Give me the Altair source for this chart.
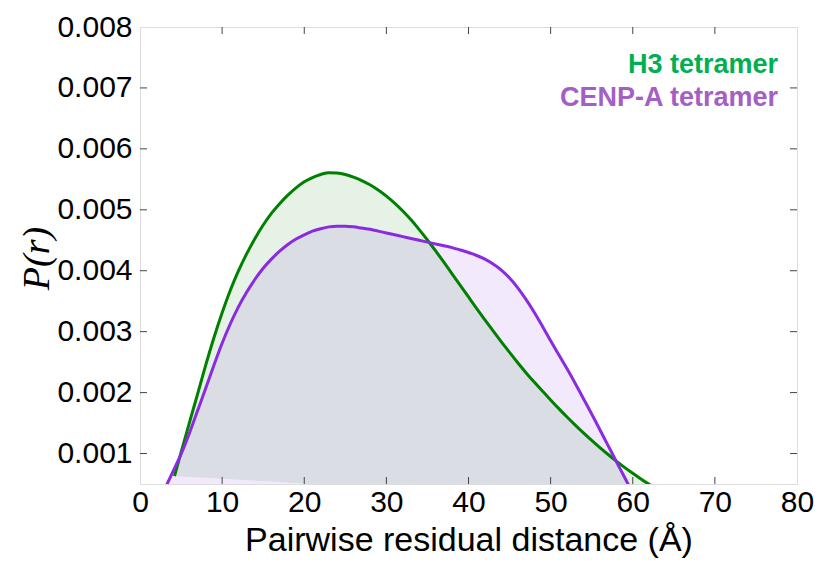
import altair as alt
import numpy as np
import pandas as pd

# ---- data ----
h3_x = [4.2, 5, 6, 7, 8, 9, 10, 11, 12, 13, 14, 15, 16, 17, 18, 19, 20, 21, 22, 23, 24,
        25, 26, 27, 28, 29, 30, 31, 32, 33, 34, 35, 36, 37, 38, 39, 40, 41, 42, 43, 44,
        45, 46, 47, 48, 49, 50, 51, 52, 53, 54, 55, 56, 57, 58, 59, 60, 61, 62, 63, 64,
        65, 66.5]
h3_y = [0.00063, 0.00102, 0.00150, 0.00197, 0.00245, 0.00290, 0.00331, 0.00368, 0.00400,
        0.00428, 0.00453, 0.00475, 0.00494, 0.00510, 0.00524, 0.00536, 0.00546, 0.00553,
        0.00558, 0.00561, 0.005605, 0.00558, 0.005535, 0.00548, 0.00541, 0.005325,
        0.005225, 0.00511, 0.00498, 0.004835, 0.004675, 0.004505, 0.004325, 0.00414,
        0.00395, 0.00376, 0.00357, 0.00338, 0.003195, 0.003012, 0.002833, 0.002659,
        0.00249, 0.002327, 0.002172, 0.002026, 0.00188, 0.001737, 0.001599, 0.001466,
        0.001338, 0.001215, 0.001097, 0.000984, 0.000876, 0.000773, 0.000675, 0.000582,
        0.000494, 0.000411, 0.000333, 0.00026, 0.000155]

cenp_x = [2.5, 3.3, 4, 5, 6, 7, 8, 9, 10, 11, 12, 13, 14, 15, 16, 17, 18, 19, 20, 21, 22,
          23, 24, 25, 26, 27, 28, 29, 30, 31, 32, 33, 34, 35, 36, 37, 38, 39, 40, 41, 42,
          43, 44, 45, 46, 47, 48, 49, 50, 51, 52, 53, 54, 55, 56, 57, 58, 59, 60, 61]
cenp_y = [0.00027, 0.00050, 0.00070, 0.00099, 0.00133, 0.00170, 0.00207, 0.00245, 0.00281,
          0.00313, 0.00341, 0.00365, 0.00386, 0.00404, 0.00419, 0.00432, 0.00443, 0.00452,
          0.00459, 0.00465, 0.00469, 0.00472, 0.00473, 0.00473, 0.00472, 0.00470, 0.00468,
          0.00465, 0.00462, 0.00459, 0.00456, 0.00453, 0.00450, 0.00447, 0.00444, 0.00441,
          0.00438, 0.00434, 0.00430, 0.00425, 0.00419, 0.00411, 0.00401, 0.00388, 0.00372,
          0.00353, 0.00332, 0.00309, 0.00285, 0.00262, 0.00239, 0.00215, 0.00190, 0.00165,
          0.00139, 0.00113, 0.00087, 0.00061, 0.00035, 0.00009]

x_ticks = [0, 10, 20, 30, 40, 50, 60, 70, 80]
y_ticks = [0.001, 0.002, 0.003, 0.004, 0.005, 0.006, 0.007, 0.008]
labels = ["H3 tetramer", "CENP-A tetramer"]


def closed(xs, ys):
    # polygon closed by the straight segment joining first and last point
    xs = np.asarray(xs, float)
    ys = np.asarray(ys, float)
    base = np.interp(xs, [xs[0], xs[-1]], [ys[0], ys[-1]])
    return pd.DataFrame({"x": xs, "y": ys, "base": base})


h3 = closed(h3_x, h3_y)
cenp = closed(cenp_x, cenp_y)

W, H = 657, 457
GREEN, PURPLE = "#008000", "#8a2be2"

xscale = alt.Scale(domain=[0, 80], nice=False, zero=False)
yscale = alt.Scale(domain=[0.0005, 0.008], nice=False, zero=False)

xaxis = alt.Axis(values=x_ticks, title="Pairwise residual distance (Å)", grid=False,
                 domain=False, ticks=False, tickSize=0, labelFlush=False,
                 labelFontSize=30, labelPadding=3, labelFont="Liberation Sans",
                 labelColor="black", titleFont="Liberation Sans", titleFontSize=34,
                 titleFontWeight="normal", titleColor="black",
                 titleBaseline="middle", titleY=56)
yaxis = alt.Axis(values=y_ticks, format=".3f", title="P(r)", grid=False,
                 domain=False, ticks=False, tickSize=0, labelFlush=False,
                 labelFontSize=30, labelPadding=8, labelFont="Liberation Sans",
                 labelColor="black", titleFont="Liberation Serif", titleFontSize=38,
                 titleFontStyle="italic", titleFontWeight="normal", titleColor="black",
                 titleAngle=270, titleBaseline="middle", titleAlign="center",
                 titleX=-103, titleY=231)


def area(df, color):
    return alt.Chart(df).mark_area(color=color, opacity=0.1, clip=True,
                                   interpolate="monotone").encode(
        x=alt.X("x:Q", scale=xscale, axis=xaxis),
        y=alt.Y("y:Q", scale=yscale, axis=yaxis),
        y2="base:Q")


def line(df, color):
    return alt.Chart(df).mark_line(color=color, strokeWidth=3, clip=True,
                                   interpolate="monotone").encode(
        x=alt.X("x:Q", scale=xscale), y=alt.Y("y:Q", scale=yscale))


xt = pd.DataFrame({"t": x_ticks[1:-1]})
yt = pd.DataFrame({"t": y_ticks[:-1]})
tick_style = dict(color="#444444", strokeWidth=1)
ticks = [
    alt.Chart(xt).mark_rule(**tick_style).encode(
        x=alt.X("t:Q", scale=xscale), y=alt.value(H), y2=alt.value(H - 7)),
    alt.Chart(xt).mark_rule(**tick_style).encode(
        x=alt.X("t:Q", scale=xscale), y=alt.value(0), y2=alt.value(7)),
    alt.Chart(yt).mark_rule(**tick_style).encode(
        y=alt.Y("t:Q", scale=yscale), x=alt.value(0), x2=alt.value(7)),
    alt.Chart(yt).mark_rule(**tick_style).encode(
        y=alt.Y("t:Q", scale=yscale), x=alt.value(W), x2=alt.value(W - 7)),
]

lab = pd.DataFrame({"label": labels})
text_h3 = alt.Chart(lab.iloc[[0]]).mark_text(
    align="right", baseline="alphabetic", font="Liberation Sans", fontSize=27,
    fontWeight="bold", color="#00b050").encode(
    text="label:N", x=alt.value(638), y=alt.value(46))
text_cenp = alt.Chart(lab.iloc[[1]]).mark_text(
    align="right", baseline="alphabetic", font="Liberation Sans", fontSize=27,
    fontWeight="bold", color="#a35fc6").encode(
    text="label:N", x=alt.value(638), y=alt.value(79))

chart = alt.layer(
    area(h3, GREEN), area(cenp, PURPLE), line(h3, GREEN), line(cenp, PURPLE),
    *ticks, text_h3, text_cenp
).properties(
    width=W, height=H,
    autosize=alt.AutoSizeParams(type="none"),
    padding={"left": 132, "top": 19, "right": 17, "bottom": 74},
).configure_view(stroke="black", strokeWidth=2).configure(background="white")

chart.save("out.html", embed_options={"renderer": "svg", "actions": False})
